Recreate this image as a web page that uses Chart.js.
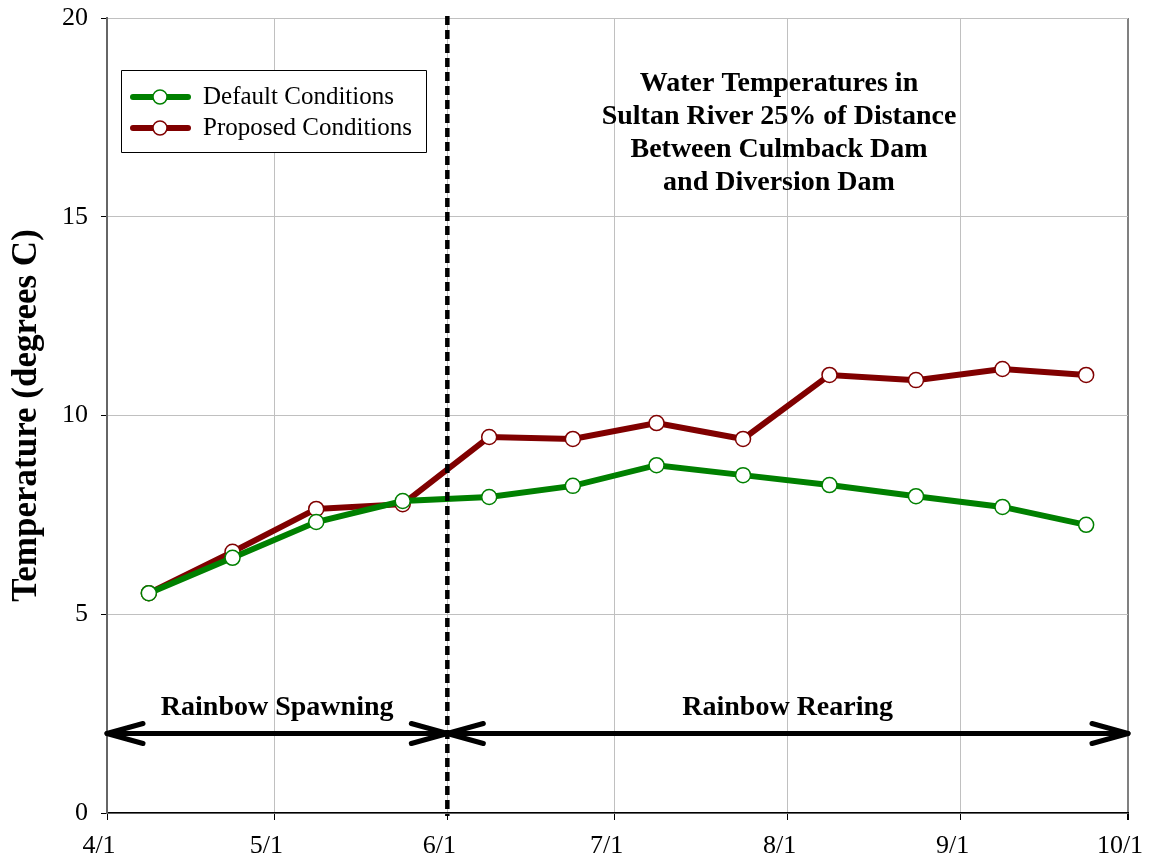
<!DOCTYPE html>
<html>
<head>
<meta charset="utf-8">
<script src="https://cdn.jsdelivr.net/npm/chart.js@4.4.1/dist/chart.umd.min.js"></script>
<style>
  html, body { margin: 0; padding: 0; background: #fff; }
  #wrap { width: 1151px; height: 867px; position: relative; }
</style>
</head>
<body>
<div id="wrap"><canvas id="chart"></canvas></div>
<script>
// Days since 4/1 for each sample (semi-monthly)
const sampleDays = [7.5, 22.5, 37.5, 53, 68.5, 83.5, 98.5, 114, 129.5, 145, 160.5, 175.5];
const defaultTemps  = [5.53, 6.42, 7.32, 7.85, 7.95, 8.23, 8.75, 8.50, 8.25, 7.97, 7.70, 7.25];
const proposedTemps = [5.53, 6.57, 7.65, 7.77, 9.46, 9.41, 9.81, 9.41, 11.02, 10.89, 11.17, 11.02];

// X ticks (days since 4/1) and their labels
const tickDays   = [0, 30, 61, 91, 122, 153, 183];
const tickLabels = ['4/1', '5/1', '6/1', '7/1', '8/1', '9/1', '10/1'];

const seriesNames = ['Default Conditions', 'Proposed Conditions'];
const titleLines = ['Water Temperatures in', 'Sultan River 25% of Distance', 'Between Culmback Dam', 'and Diversion Dam'];

// periods: [start day, end day, label]
const periods = [[0, 61, 'Rainbow Spawning'], [61, 183, 'Rainbow Rearing']];
const splitDay = 61;
const arrowLevel = 2;

const FONT = '"Liberation Serif", "Times New Roman", serif';

function toPoints(xs, ys) {
    return xs.map((x, i) => ({ x: x, y: ys[i] }));
}

function drawArrowHead(ctx, x, y, dir) {
    ctx.beginPath();
    ctx.moveTo(x - dir * 36, y - 10);
    ctx.lineTo(x, y);
    ctx.lineTo(x - dir * 36, y + 10);
    ctx.stroke();
}

const overlayPlugin = {
    id: 'overlay',
    afterDatasetsDraw(chart) {
        const ctx = chart.ctx;
        const xs = chart.scales.x, ys = chart.scales.y;
        const area = chart.chartArea;
        ctx.save();

        // arrows for the periods
        const ay = ys.getPixelForValue(arrowLevel);
        ctx.strokeStyle = '#000';
        ctx.lineWidth = 5;
        ctx.lineCap = 'round';
        ctx.lineJoin = 'round';
        periods.forEach(p => {
            const x1 = xs.getPixelForValue(p[0]);
            const x2 = xs.getPixelForValue(p[1]);
            ctx.beginPath();
            ctx.moveTo(x1, ay);
            ctx.lineTo(x2, ay);
            ctx.stroke();
            drawArrowHead(ctx, x1, ay, -1);
            drawArrowHead(ctx, x2, ay, 1);

            ctx.fillStyle = '#000';
            ctx.font = 'bold 28px ' + FONT;
            ctx.textAlign = 'center';
            ctx.textBaseline = 'middle';
            ctx.fillText(p[2], (x1 + x2) / 2, ay - 26);
        });

        // dashed split line
        const sx = xs.getPixelForValue(splitDay);
        ctx.lineCap = 'butt';
        ctx.lineWidth = 4.5;
        ctx.setLineDash([9, 5]);
        ctx.beginPath();
        ctx.moveTo(sx, area.top - 2);
        ctx.lineTo(sx, area.bottom + 3);
        ctx.stroke();
        ctx.setLineDash([]);

        // title block
        ctx.font = 'bold 28px ' + FONT;
        ctx.textAlign = 'center';
        ctx.textBaseline = 'middle';
        titleLines.forEach((t, i) => {
            ctx.fillText(t, 779, 83.5 + i * 33);
        });

        // legend box
        const lx = 121, ly = 70, lw = 305, lh = 82;
        ctx.fillStyle = '#fff';
        ctx.fillRect(lx, ly, lw, lh);
        ctx.strokeStyle = '#000';
        ctx.lineWidth = 1;
        ctx.strokeRect(lx + 0.5, ly + 0.5, lw, lh);
        chart.data.datasets.forEach((ds, i) => {
            const yy = ly + 27 + i * 31;
            ctx.strokeStyle = ds.borderColor;
            ctx.lineWidth = 6;
            ctx.lineCap = 'round';
            ctx.beginPath();
            ctx.moveTo(133, yy);
            ctx.lineTo(188, yy);
            ctx.stroke();
            ctx.beginPath();
            ctx.arc(160, yy, 7, 0, Math.PI * 2);
            ctx.fillStyle = '#fff';
            ctx.fill();
            ctx.lineWidth = 1.5;
            ctx.stroke();
            ctx.fillStyle = '#000';
            ctx.font = '25px ' + FONT;
            ctx.textAlign = 'left';
            ctx.fillText(ds.label, 203, yy);
        });
        ctx.restore();
    }
};

new Chart(document.getElementById('chart'), {
    type: 'line',
    data: {
        datasets: [
            {
                label: seriesNames[0],
                data: toPoints(sampleDays, defaultTemps),
                borderColor: '#008000',
                borderWidth: 6,
                pointRadius: 7.5,
                pointBorderWidth: 1.5,
                pointBackgroundColor: '#fff',
                pointBorderColor: '#008000',
                tension: 0
            },
            {
                label: seriesNames[1],
                data: toPoints(sampleDays, proposedTemps),
                borderColor: '#800000',
                borderWidth: 6,
                pointRadius: 7.5,
                pointBorderWidth: 1.5,
                pointBackgroundColor: '#fff',
                pointBorderColor: '#800000',
                tension: 0
            }
        ]
    },
    options: {
        responsive: true,
        maintainAspectRatio: false,
        animation: false,
        layout: { padding: { left: 0, right: 23, top: 18, bottom: 0 } },
        plugins: { legend: { display: false }, tooltip: { enabled: false } },
        scales: {
            x: {
                type: 'linear',
                min: 0,
                max: 183,
                afterBuildTicks: scale => { scale.ticks = tickDays.map(v => ({ value: v })); },
                afterFit: scale => {
                    scale.height = 54;
                    scale.paddingLeft = 0;
                    scale.paddingRight = 0;
                },
                ticks: {
                    autoSkip: false,
                    maxRotation: 0,
                    padding: 11,
                    labelOffset: -8,
                    color: '#000',
                    font: { family: FONT, size: 26 },
                    callback: (value, index) => tickLabels[index]
                },
                grid: {
                    color: ctx => ctx.index === tickDays.length - 1 ? '#808080' : '#c0c0c0',
                    lineWidth: ctx => ctx.index === tickDays.length - 1 ? 2 : 1,
                    tickColor: '#000',
                    tickLength: 7
                },
                border: { color: '#000', width: 1.5 }
            },
            y: {
                min: 0,
                max: 20,
                afterFit: scale => {
                    scale.width = 107;
                    scale.paddingTop = 0;
                    scale.paddingBottom = 0;
                },
                ticks: {
                    stepSize: 5,
                    padding: 13,
                    color: '#000',
                    font: { family: FONT, size: 26 }
                },
                grid: {
                    color: '#c0c0c0',
                    tickColor: '#000',
                    tickLength: 6
                },
                border: { color: '#666', width: 2 },
                title: {
                    display: true,
                    text: 'Temperature (degrees C)',
                    color: '#000',
                    font: { family: FONT, size: 35, weight: 'bold' },
                    padding: { top: 6, bottom: 0 }
                }
            }
        }
    },
    plugins: [overlayPlugin]
});
</script>
</body>
</html>
